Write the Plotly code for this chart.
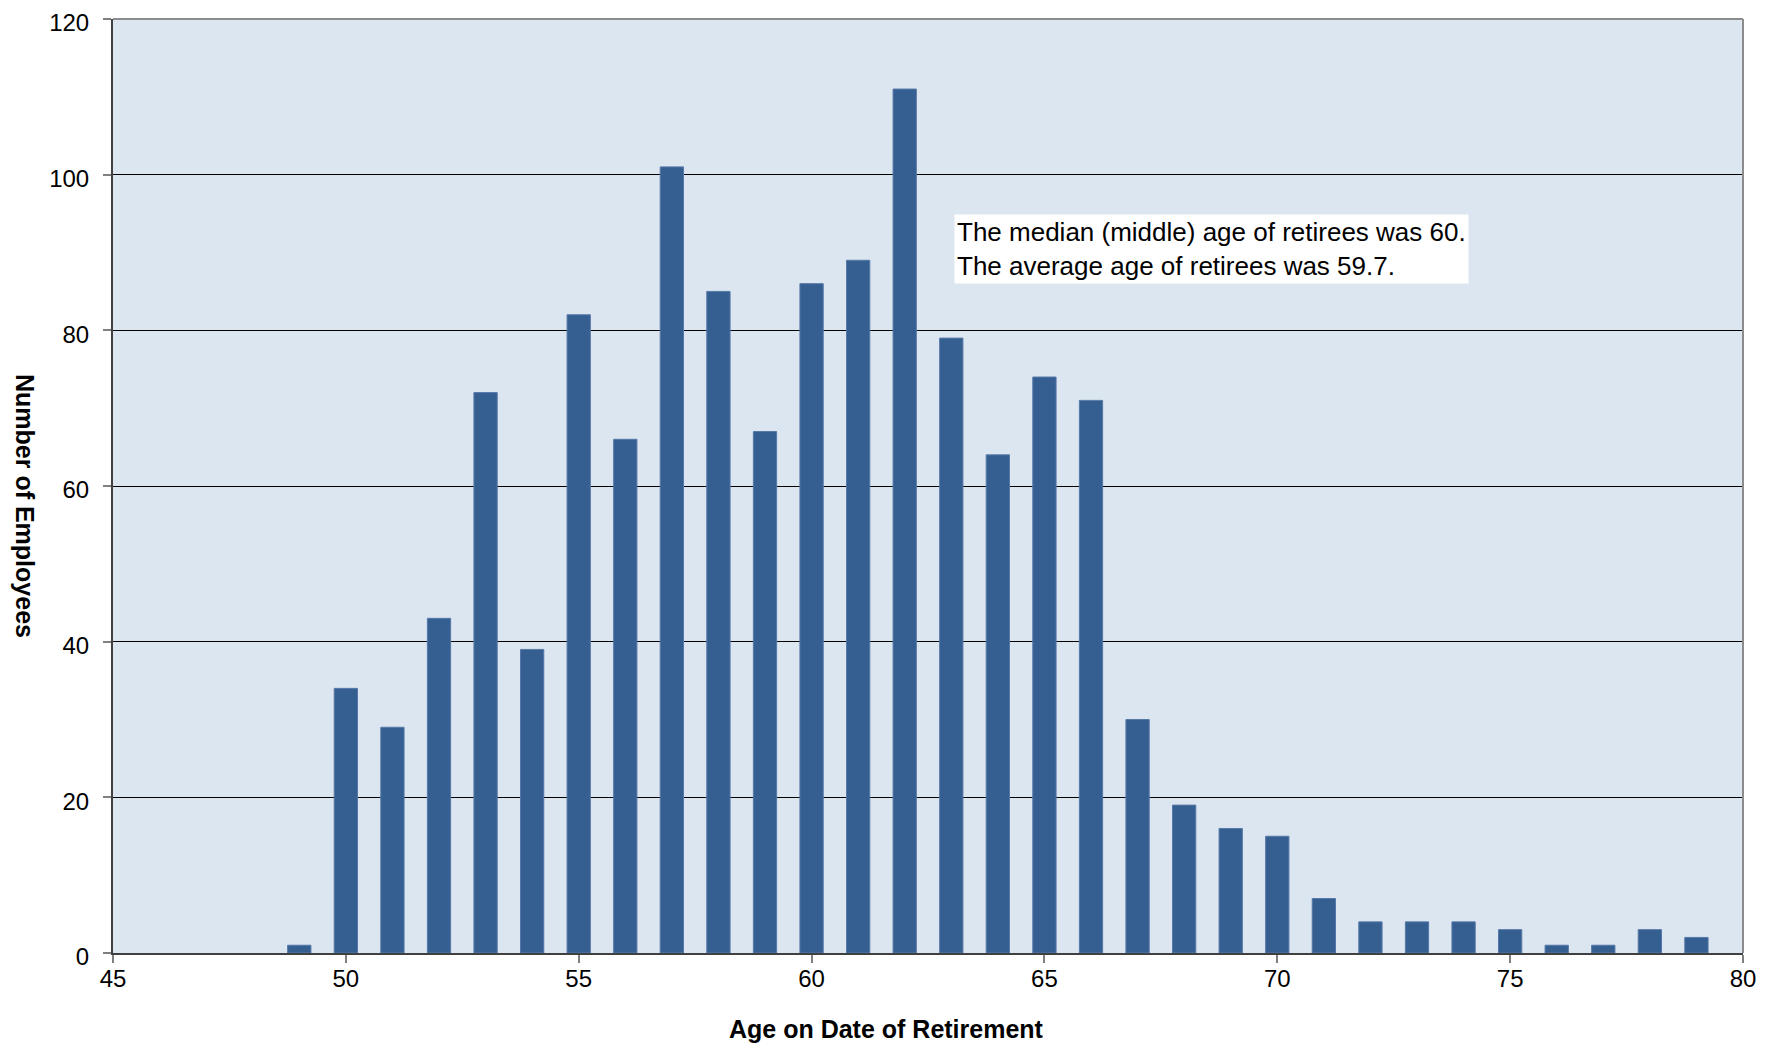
import plotly.graph_objects as go

ages = list(range(49, 80))
counts = [1, 34, 29, 43, 72, 39, 82, 66, 101, 85, 67, 86, 89, 111, 79, 64,
          74, 71, 30, 19, 16, 15, 7, 4, 4, 4, 3, 1, 1, 3, 2]
x_ticks = [45, 50, 55, 60, 65, 70, 75, 80]
y_ticks = [0, 20, 40, 60, 80, 100, 120]
note_lines = ["The median (middle) age of retirees was 60.",
              "The average age of retirees was 59.7."]
x_title = "Age on Date of Retirement"
y_title = "Number of Employees"

FONT = "Liberation Sans, Arial, sans-serif"
OFF = 8  # default body margin of the html page
W, H = 1761, 1035
# target plot area in screen pixels: left 113, right 1743, top 19, bottom 953
L, T = 113 - OFF, 19 - OFF
pw, ph = 1743 - 113, 953 - 19
R, B = W - L - pw, H - T - ph


def px(xs):  # screen x -> paper x
    return (xs - OFF - L) / pw


def py(ys):  # screen y -> paper y
    return (T + ph - (ys - OFF)) / ph


fig = go.Figure()
fig.add_trace(go.Bar(
    x=ages, y=counts, width=0.5,
    marker=dict(color="#365F91", line=dict(color="#5679a8", width=1)),
    hoverinfo="x+y",
))

fig.update_layout(
    width=W, height=H,
    margin=dict(l=L, r=R, t=T, b=B, autoexpand=False),
    paper_bgcolor="white",
    plot_bgcolor="#DCE6F0",
    showlegend=False,
    font=dict(family=FONT, color="black"),
    xaxis=dict(
        range=[45, 80], tickvals=x_ticks, ticktext=[str(v) for v in x_ticks],
        showgrid=False, zeroline=False,
        showline=True, linecolor="#404040", linewidth=2,
        ticks="outside", ticklen=8, tickcolor="#808080", tickwidth=2,
        tickfont=dict(size=24, family=FONT, color="black"),
        ticklabelstandoff=-5, ticklabeloverflow="allow",
    ),
    yaxis=dict(
        range=[0, 120], tickvals=y_ticks, ticktext=[str(v) for v in y_ticks],
        showgrid=True, gridcolor="#000000", gridwidth=1,
        zeroline=False,
        showline=True, linecolor="#404040", linewidth=2,
        ticks="outside", ticklen=8, tickcolor="#808080", tickwidth=2,
        tickfont=dict(size=24, family=FONT, color="black"),
        ticklabelstandoff=9, ticklabelshift=4, ticklabeloverflow="allow",
    ),
)

# top and right frame (grey)
fig.add_shape(type="line", xref="paper", yref="paper", x0=0, x1=1, y0=1, y1=1,
              line=dict(color="#8c8c8c", width=2), layer="above")
fig.add_shape(type="line", xref="paper", yref="paper", x0=1, x1=1, y0=0, y1=1,
              line=dict(color="#8c8c8c", width=2), layer="above")

# note box
fig.add_annotation(
    xref="paper", yref="paper",
    x=px(954), y=py(214),
    xanchor="left", yanchor="top",
    text="<br>".join(note_lines), align="left", showarrow=False,
    font=dict(size=26, family=FONT, color="black"),
    bgcolor="white", borderpad=2,
)

# axis titles
fig.add_annotation(
    xref="paper", yref="paper",
    x=px(886), y=py(1029),
    xanchor="center", yanchor="middle",
    text="<b>" + x_title + "</b>", showarrow=False,
    font=dict(size=25, family=FONT, color="black"),
)
fig.add_annotation(
    xref="paper", yref="paper",
    x=px(25), y=py(506),
    xanchor="center", yanchor="middle", textangle=90,
    text="<b>" + y_title + "</b>", showarrow=False,
    font=dict(size=25, family=FONT, color="black"),
)

fig.write_html("out.html")
